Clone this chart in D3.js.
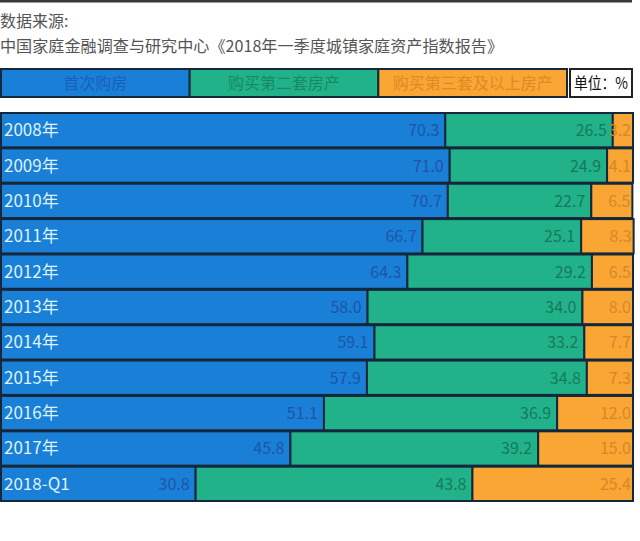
<!DOCTYPE html>
<html><head><meta charset="utf-8">
<script src="https://cdn.jsdelivr.net/npm/d3@7"></script>
<style>body{margin:0;background:#fff}svg{display:block}</style>
</head><body>
<script>
const categories = ["2008年","2009年","2010年","2011年","2012年","2013年","2014年","2015年","2016年","2017年","2018-Q1"];
const firstHome = [70.3,71.0,70.7,66.7,64.3,58.0,59.1,57.9,51.1,45.8,30.8];
const secondHome = [26.5,24.9,22.7,25.1,29.2,34.0,33.2,34.8,36.9,39.2,43.8];
const thirdHome = [3.2,4.1,6.5,8.3,6.5,8.0,7.7,7.3,12.0,15.0,25.4];
const seriesNames = ["首次购房","购买第二套房产","购买第三套及以上房产"];
const unitLabel = "单位：%";
const sourceLines = ["数据来源:","中国家庭金融调查与研究中心《2018年一季度城镇家庭资产指数报告》"];

const W = 640, H = 541;
const fills = ["#1a7fd6","#22b28a","#f9a634"];
const labelColors = ["#1d56a6","#157a5c","#d5882a"];
const legendText = ["#1a5fbf","#178a64","#dc8a24"];
const stroke = "#15273a";
const font = "'Noto Sans CJK SC','Noto Sans',sans-serif";

const svg = d3.select("body").append("svg").attr("width",W).attr("height",H);

// top rule
svg.append("rect").attr("x",0).attr("y",0).attr("width",632).attr("height",2.5).attr("fill","#3a3a3a");

svg.append("text").attr("x",0).attr("y",27).text(sourceLines[0])
  .attr("font-family",font).attr("font-size",16).attr("fill","#555");
svg.append("text").attr("x",0).attr("y",52).text(sourceLines[1])
  .attr("font-family",font).attr("font-size",16).attr("fill","#555")
  .attr("textLength",503).attr("lengthAdjust","spacingAndGlyphs");

// legend
const lx = d3.scaleBand().domain(seriesNames).range([1,567]);
const lg = svg.append("g");
seriesNames.forEach((s,i)=>{
  lg.append("rect").attr("x",lx(s)).attr("y",69).attr("width",lx.bandwidth()).attr("height",28)
    .attr("fill",fills[i]).attr("stroke",stroke).attr("stroke-width",2);
  lg.append("text").attr("x",lx(s)+lx.bandwidth()/2).attr("y",89).attr("text-anchor","middle")
    .attr("font-family",font).attr("font-size",16).attr("fill",legendText[i]).text(s);
});
lg.append("rect").attr("x",570).attr("y",69).attr("width",62).attr("height",28)
  .attr("fill","#fff").attr("stroke","#222").attr("stroke-width",2);
lg.append("text").attr("x",574).attr("y",89)
  .attr("font-family",font).attr("font-size",16).attr("fill","#111")
  .attr("textLength",54).attr("lengthAdjust","spacingAndGlyphs").text(unitLabel);

// bars
const x = d3.scaleLinear().domain([0,100]).range([1,633]);
const y = d3.scaleBand().domain(categories).range([113,501]).paddingInner(0.03);
const data = categories.map((c,i)=>({cat:c, vals:[firstHome[i],secondHome[i],thirdHome[i]]}));

const rows = svg.append("g").selectAll("g").data(data).join("g");
rows.each(function(d){
  const g = d3.select(this);
  let cum = 0;
  d.vals.forEach((v,k)=>{
    const x0 = x(cum), x1 = x(cum+v);
    g.append("rect").attr("x",x0).attr("y",y(d.cat)).attr("width",x1-x0).attr("height",y.bandwidth())
      .attr("fill",fills[k]).attr("stroke",stroke).attr("stroke-width",2);
    g.append("text").attr("x",x1-(k===2?2:6)).attr("y",y(d.cat)+y.bandwidth()/2+6)
      .attr("text-anchor","end").attr("font-family",font).attr("font-size",16)
      .attr("fill",labelColors[k]).text(v.toFixed(1));
    cum += v;
  });
  g.append("text").attr("x",4).attr("y",y(d.cat)+y.bandwidth()/2+6)
    .attr("font-family",font).attr("font-size",17).attr("fill","#dff2ff").text(d.cat);
});
</script>
</body></html>
